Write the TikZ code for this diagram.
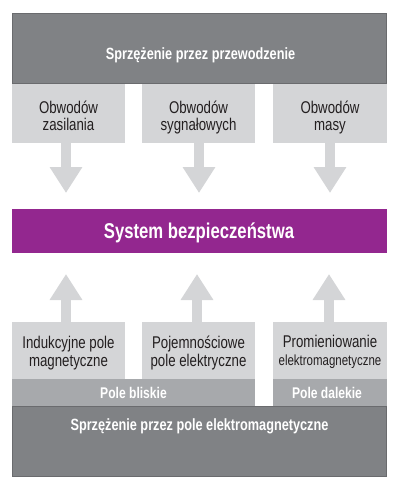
\documentclass[tikz,border=0pt]{standalone}
\usepackage{fontspec}
\setmainfont{Liberation Sans}[FakeStretch=0.78]
\usetikzlibrary{arrows.meta}
\definecolor{darkg}{HTML}{808285}
\definecolor{darkedge}{HTML}{6A6B6E}
\definecolor{lightg}{HTML}{D4D5D7}
\definecolor{midg}{HTML}{A7A9AC}
\definecolor{purp}{HTML}{93278F}
\definecolor{ink}{HTML}{231F20}
\begin{document}
\begin{tikzpicture}[x=1pt,y=-1pt,
  blk/.style={inner sep=0pt, outer sep=0pt, draw=none},
  darkbox/.style={blk, fill=darkg, draw=darkedge, line width=0.8pt},
  lightbox/.style={blk, fill=lightg},
  midbox/.style={blk, fill=midg},
  sysbox/.style={blk, fill=purp},
  title/.style={text=white, font=\bfseries\fontsize{16.3}{19}\selectfont, anchor=base, inner sep=0pt},
  systitle/.style={text=white, font=\bfseries\fontsize{21.4}{24}\selectfont, anchor=base, inner sep=0pt},
  label/.style={text=ink, font=\fontsize{17}{17}\selectfont, align=center, anchor=base, inner sep=0pt},
  labelb/.style={text=ink, font=\fontsize{17}{18}\selectfont, align=center, anchor=base, inner sep=0pt},
  fieldlbl/.style={text=white, font=\bfseries\fontsize{15.5}{17}\selectfont, anchor=base, inner sep=0pt},
  arr/.style={draw=lightg, line width=10pt, -{Triangle[width=31pt,length=26pt]}}
]
\useasboundingbox (0,0) rectangle (400,490);
% boxes
\node[darkbox, minimum width=374pt, minimum height=70pt] (top) at (199.5,48.5) {};
\node[lightbox, minimum width=113pt, minimum height=59pt] (b1) at (68.5,113.5) {};
\node[lightbox, minimum width=113pt, minimum height=59pt] (b2) at (198.5,113.5) {};
\node[lightbox, minimum width=114pt, minimum height=59pt] (b3) at (330,113.5) {};
\node[sysbox, minimum width=375pt, minimum height=44pt] (sys) at (199.5,231) {};
\node[lightbox, minimum width=113pt, minimum height=57pt] (c1) at (68.5,350.5) {};
\node[lightbox, minimum width=113pt, minimum height=57pt] (c2) at (198.5,350.5) {};
\node[lightbox, minimum width=114pt, minimum height=57pt] (c3) at (330,350.5) {};
\node[midbox, minimum width=243pt, minimum height=27pt] (near) at (133.5,392.5) {};
\node[midbox, minimum width=114pt, minimum height=27pt] (far) at (330,392.5) {};
\node[darkbox, minimum width=374pt, minimum height=70pt] (bot) at (199.5,441.5) {};
% texts
\node[title] (ttop) at (200.5,59) {Sprzężenie przez przewodzenie};
\node[label] (tb1) at (68.5,130) {Obwodów\\zasilania};
\node[label] (tb2) at (198.5,130) {Obwodów\\sygnałowych};
\node[label] (tb3) at (330,130) {Obwodów\\masy};
\node[systitle] (tsys) at (199,238) {System bezpieczeństwa};
\node[labelb] (tc1) at (68.5,366) {Indukcyjne pole\\magnetyczne};
\node[labelb] (tc2) at (198.5,366) {Pojemnościowe\\pole elektryczne};
\node[labelb] (tc3) at (330,365) {Promieniowanie\\{\fontsize{14.7}{16}\selectfont elektromagnetyczne}};
\node[fieldlbl] (tnear) at (133.5,398) {Pole bliskie};
\node[fieldlbl] (tfar) at (327,398) {Pole dalekie};
\node[title] (tbot) at (199.5,430) {Sprzężenie przez pole elektromagnetyczne};
% arrows
\draw[arr, shorten >=16pt] ([xshift=-2.5pt]b1.south) -- ([xshift=-2.5pt]b1.south |- sys.north);
\draw[arr, shorten >=16pt] ([xshift=0.5pt]b2.south) -- ([xshift=0.5pt]b2.south |- sys.north);
\draw[arr, shorten >=16pt] (b3.south) -- (b3.south |- sys.north);
\draw[arr, shorten >=21pt] ([xshift=-2.5pt]c1.north) -- ([xshift=-2.5pt]c1.north |- sys.south);
\draw[arr, shorten >=21pt] ([xshift=-1.5pt]c2.north) -- ([xshift=-1.5pt]c2.north |- sys.south);
\draw[arr, shorten >=21pt] ([xshift=-1pt]c3.north) -- ([xshift=-1pt]c3.north |- sys.south);
\end{tikzpicture}
\end{document}
